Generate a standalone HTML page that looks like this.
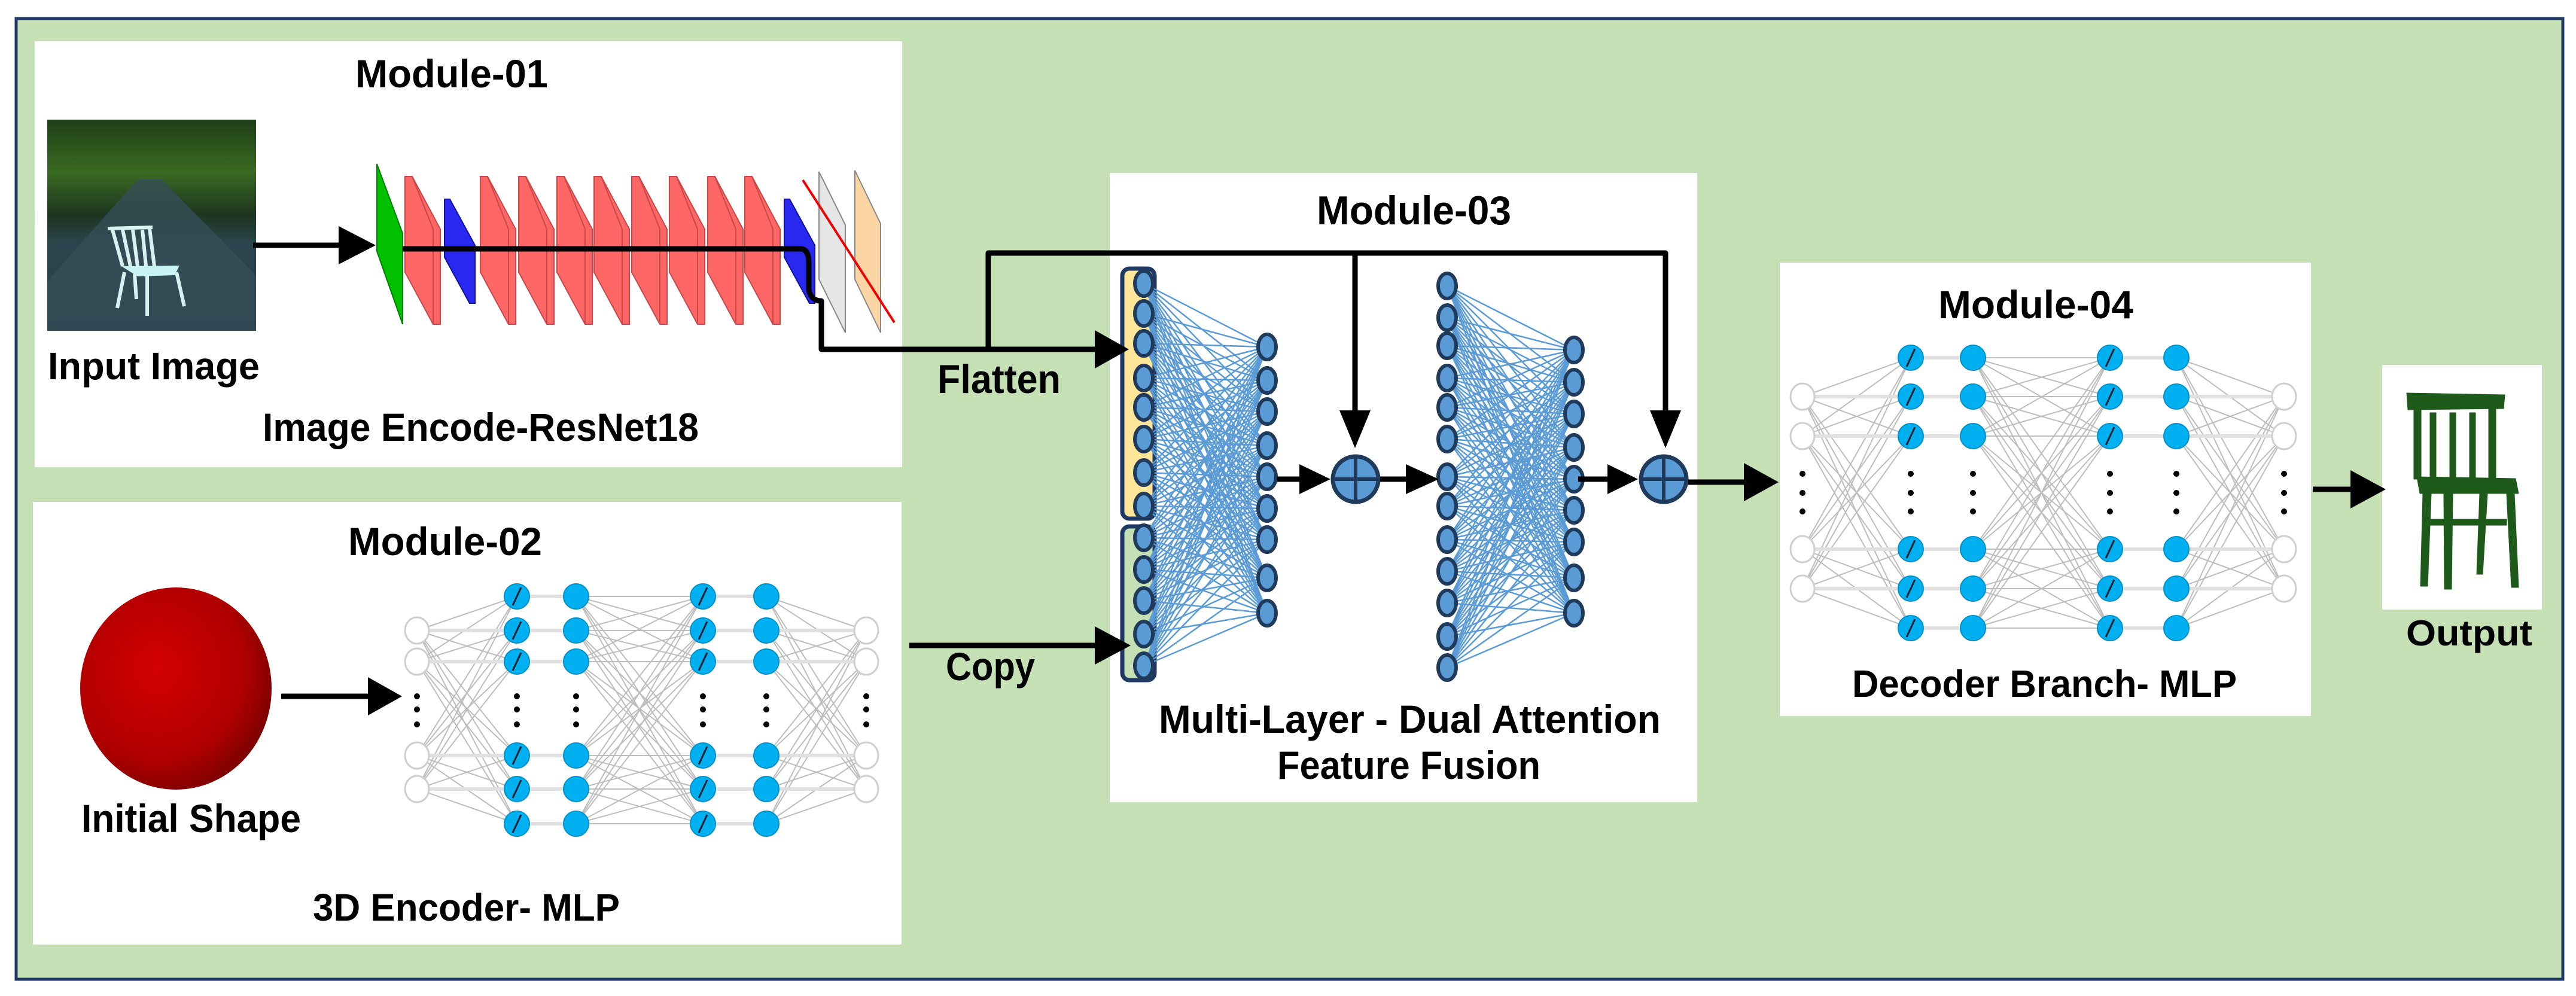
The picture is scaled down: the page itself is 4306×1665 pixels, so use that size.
<!DOCTYPE html>
<html><head><meta charset="utf-8"><style>
html,body{margin:0;padding:0;background:#fff;}
svg{display:block;}
text{font-family:"Liberation Sans",Arial,sans-serif;font-weight:bold;fill:#000;}
</style></head><body>
<svg id="s" xmlns="http://www.w3.org/2000/svg" width="4306" height="1665" viewBox="0 0 4306 1665">
<defs>
<linearGradient id="img" x1="0" y1="0" x2="0" y2="1">
<stop offset="0" stop-color="#1f3f18"/><stop offset="0.25" stop-color="#3a6a22"/><stop offset="0.45" stop-color="#1d3520"/><stop offset="0.6" stop-color="#2c4650"/><stop offset="1" stop-color="#223a44"/>
</linearGradient>
<radialGradient id="sph" cx="0.4" cy="0.4" r="0.65">
<stop offset="0" stop-color="#d40000"/><stop offset="0.7" stop-color="#b00000"/><stop offset="1" stop-color="#7a0000"/>
</radialGradient>
</defs>
<rect x="0" y="0" width="4306" height="1665" fill="#fff"/>
<rect x="27" y="31" width="4257" height="1606" fill="#c5e0b4" stroke="#203864" stroke-width="5"/>
<!-- module boxes -->
<rect x="58" y="69" width="1450" height="712" fill="#fff"/>
<rect x="55" y="839" width="1452" height="740" fill="#fff"/>
<rect x="1855" y="289" width="982" height="1052" fill="#fff"/>
<rect x="2975" y="439" width="888" height="758" fill="#fff"/>
<rect x="3982" y="610" width="267" height="409" fill="#fff"/>

<!-- input image -->
<rect x="79" y="200" width="349" height="353" fill="url(#img)"/>
<polygon points="230,300 270,300 428,460 428,553 79,553 79,470" fill="#344e58" opacity="0.8"/>
<g stroke="#d8f0f0" stroke-width="6" fill="none">
<line x1="180" y1="382" x2="255" y2="380"/><line x1="188" y1="384" x2="205" y2="445"/><line x1="250" y1="382" x2="258" y2="445"/>
<line x1="205" y1="384" x2="218" y2="445"/><line x1="222" y1="384" x2="230" y2="445"/><line x1="238" y1="384" x2="244" y2="445"/>
<line x1="208" y1="455" x2="196" y2="515"/><line x1="246" y1="460" x2="246" y2="528"/><line x1="295" y1="455" x2="308" y2="512"/><line x1="225" y1="458" x2="228" y2="500"/>
</g>
<polygon points="203,445 300,444 292,460 230,462" fill="#c8f4f4"/>

<!-- resnet layers -->
<polygon points="630,274 673,390 673,542 630,420" fill="#00c000" stroke="#008000" stroke-width="2"/>
<g id="reds"></g>
<polygon points="743,333 752,333 794,410 794,507 785,507 743,430" fill="#2828f0" stroke="#1010a0" stroke-width="2"/>
<polygon points="1311,333 1320,333 1362,410 1362,507 1353,507 1311,430" fill="#2828f0" stroke="#1010a0" stroke-width="2"/>
<polygon points="1369,287 1413,376 1413,556 1369,467" fill="#e6e6e6" stroke="#888" stroke-width="2"/>
<polygon points="1429,285 1472,374 1472,556 1429,467" fill="#fcd5a5" stroke="#888" stroke-width="2"/>
<line x1="1342" y1="301" x2="1495" y2="539" stroke="#f00000" stroke-width="4"/>

<!-- sphere -->
<ellipse cx="294" cy="1151" rx="160" ry="169" fill="url(#sph)"/>

<g id="mlp"></g>
<g id="m3"></g>

<!-- connectors -->
<g stroke="#000" stroke-width="9" fill="none" stroke-linejoin="round">
<line x1="423" y1="410" x2="570" y2="410"/>
<path d="M673,416 L1340,416 Q1352,418 1352,440 L1352,485 Q1356,503 1373,503 L1373,584 L1835,584"/>
<path d="M1652,584 L1652,423 L2784,423 L2784,695"/>
<line x1="2265" y1="423" x2="2265" y2="695"/>
<line x1="470" y1="1164" x2="620" y2="1164"/>
<line x1="1520" y1="1079" x2="1835" y2="1079"/>
<line x1="2135" y1="801" x2="2180" y2="801"/>
<line x1="2307" y1="801" x2="2355" y2="801"/>
<line x1="2638" y1="801" x2="2690" y2="801"/>
<line x1="2822" y1="806" x2="2920" y2="806"/>
<line x1="3866" y1="818" x2="3932" y2="818"/>
</g>
<g fill="#000">
<polygon points="566,378 628,410 566,442"/>
<polygon points="615,1132 672,1164 615,1196"/>
<polygon points="1830,552 1887,584 1830,616"/>
<polygon points="1830,1047 1890,1079 1830,1111"/>
<polygon points="2239,686 2291,686 2265,749"/>
<polygon points="2758,686 2810,686 2784,749"/>
<polygon points="2172,776 2224,801 2172,826"/>
<polygon points="2350,776 2405,801 2350,826"/>
<polygon points="2687,776 2738,801 2687,826"/>
<polygon points="2915,774 2973,806 2915,838"/>
<polygon points="3929,786 3988,818 3929,850"/>
</g>

<!-- output chair -->
<g fill="#1e5a1a" stroke="#1e5a1a">
<polygon points="4023,657 4187,660 4185,683 4025,685"/>
<rect x="4035" y="683" width="12" height="118"/><rect x="4062" y="690" width="10" height="110"/><rect x="4095" y="690" width="10" height="110"/><rect x="4128" y="690" width="10" height="110"/><rect x="4160" y="683" width="12" height="118"/>
<polygon points="4040,797 4205,800 4210,825 4045,825"/>
<polygon points="4050,825 4064,825 4058,980 4046,980"/><polygon points="4085,825 4100,825 4098,985 4086,985"/>
<polygon points="4145,825 4158,825 4150,960 4140,960"/><polygon points="4190,825 4203,825 4210,982 4198,982"/>
<rect x="4060" y="868" width="130" height="10"/>
</g>

<!-- labels -->
<text x="594" y="146" font-size="66" textLength="322" lengthAdjust="spacingAndGlyphs">Module-01</text>
<text x="80" y="634" font-size="64" textLength="354" lengthAdjust="spacingAndGlyphs">Input Image</text>
<text x="439" y="737" font-size="66" textLength="729" lengthAdjust="spacingAndGlyphs">Image Encode-ResNet18</text>
<text x="582" y="928" font-size="66" textLength="324" lengthAdjust="spacingAndGlyphs">Module-02</text>
<text x="136" y="1391" font-size="66" textLength="367" lengthAdjust="spacingAndGlyphs">Initial Shape</text>
<text x="523" y="1539" font-size="64" textLength="513" lengthAdjust="spacingAndGlyphs">3D Encoder- MLP</text>
<text x="1581" y="1137" font-size="66" textLength="149" lengthAdjust="spacingAndGlyphs">Copy</text>
<text x="1567" y="657" font-size="68" textLength="206" lengthAdjust="spacingAndGlyphs">Flatten</text>
<text x="2201" y="375" font-size="68" textLength="325" lengthAdjust="spacingAndGlyphs">Module-03</text>
<text x="1937" y="1225" font-size="66" textLength="839" lengthAdjust="spacingAndGlyphs">Multi-Layer - Dual Attention</text>
<text x="2135" y="1302" font-size="66" textLength="440" lengthAdjust="spacingAndGlyphs">Feature Fusion</text>
<text x="3240" y="532" font-size="66" textLength="326" lengthAdjust="spacingAndGlyphs">Module-04</text>
<text x="3096" y="1165" font-size="64" textLength="643" lengthAdjust="spacingAndGlyphs">Decoder Branch- MLP</text>
<text x="4022" y="1079" font-size="60" textLength="211" lengthAdjust="spacingAndGlyphs">Output</text>
</svg>
<script>
var NS="http://www.w3.org/2000/svg";
function el(p,t,a){var e=document.createElementNS(NS,t);for(var k in a)e.setAttribute(k,a[k]);p.appendChild(e);return e;}
// red layers
var reds=document.getElementById("reds");
[677,803,867,931,993,1056,1119,1183,1245].forEach(function(x){
 el(reds,"polygon",{points:x+",295 "+(x+12)+",295 "+(x+59)+",383 "+(x+59)+",542 "+(x+47)+",542 "+x+",455",fill:"#ff6666",stroke:"#c84848","stroke-width":2});
 el(reds,"line",{x1:x+47,y1:383,x2:x+47,y2:542,stroke:"#c84848","stroke-width":2});
 el(reds,"line",{x1:x+12,y1:295,x2:x+47,y2:383,stroke:"#c84848","stroke-width":2});
});
// MLPs
var mlp=document.getElementById("mlp");
function drawMLP(cols,blue,empty,dots){
 var L=el(mlp,"g",{stroke:"#bdbdbd","stroke-width":2});
 function full(a,ra,b,rb){ra.forEach(function(y1){rb.forEach(function(y2){el(L,"line",{x1:a,y1:y1,x2:b,y2:y2});});});}
 function hor(a,b,r){r.forEach(function(y){el(L,"line",{x1:a,y1:y,x2:b,y2:y,stroke:"#e0e0e0","stroke-width":6});});}
 full(cols[0],empty,cols[1],blue);hor(cols[1],cols[2],blue);full(cols[2],blue,cols[3],blue);hor(cols[3],cols[4],blue);full(cols[4],blue,cols[5],empty);
 hor(cols[0],cols[1],empty);hor(cols[4],cols[5],empty);
 [0,5].forEach(function(i){empty.forEach(function(y){el(mlp,"ellipse",{cx:cols[i],cy:y,rx:20,ry:22,fill:"#fff",stroke:"#cfcfcf","stroke-width":3});});});
 [1,2,3,4].forEach(function(i){blue.forEach(function(y){el(mlp,"ellipse",{cx:cols[i],cy:y,rx:21,ry:21,fill:"#00b0f0",stroke:"#0090c8","stroke-width":2});
  if(i==1||i==3)el(mlp,"line",{x1:cols[i]-7,y1:y+15,x2:cols[i]+7,y2:y-15,stroke:"#102030","stroke-width":3});});});
 cols.forEach(function(x){dots.forEach(function(y){el(mlp,"circle",{cx:x,cy:y,r:5,fill:"#000"});});});
}
drawMLP([697,864,963,1175,1281,1448],[997,1054,1106,1263,1319,1377],[1054,1106,1263,1319],[1164,1186,1211]);
drawMLP([3013,3194,3298,3527,3638,3818],[598,663,729,918,984,1050],[663,729,918,984],[792,824,855]);
// module 03
var m3=document.getElementById("m3");
el(m3,"rect",{x:1876,y:449,width:54,height:418,rx:12,fill:"#ffe699",stroke:"#203864","stroke-width":7});
el(m3,"rect",{x:1876,y:880,width:54,height:257,rx:12,fill:"#c5e0b4",stroke:"#203864","stroke-width":7});
var c1=[474,524,574,632,681,734,790,846,899,952,1004,1060,1113],c2=[580,636,688,745,797,850,902,966,1025];
var c3=[478,531,578,632,681,734,797,846,902,955,1008,1064,1116],c4=[585,639,692,748,801,853,906,966,1025];
var LG=el(m3,"g",{stroke:"#5b9bd5","stroke-width":2.5});
c1.forEach(function(a){c2.forEach(function(b){el(LG,"line",{x1:1912,y1:a,x2:2118,y2:b});});});
c3.forEach(function(a){c4.forEach(function(b){el(LG,"line",{x1:2419,y1:a,x2:2631,y2:b});});});
function nodes(x,r){r.forEach(function(y){el(m3,"ellipse",{cx:x,cy:y,rx:15,ry:21,fill:"#5b9bd5",stroke:"#1f3a5a","stroke-width":6});});}
nodes(1912,c1);nodes(2118,c2);nodes(2419,c3);nodes(2631,c4);
[2266,2781].forEach(function(x){el(m3,"circle",{cx:x,cy:801,r:38,fill:"#5b9bd5",stroke:"#1f3a5a","stroke-width":7});
 el(m3,"line",{x1:x-38,y1:801,x2:x+38,y2:801,stroke:"#1f3a5a","stroke-width":6});
 el(m3,"line",{x1:x,y1:763,x2:x,y2:839,stroke:"#1f3a5a","stroke-width":6});});
</script>
</body></html>
